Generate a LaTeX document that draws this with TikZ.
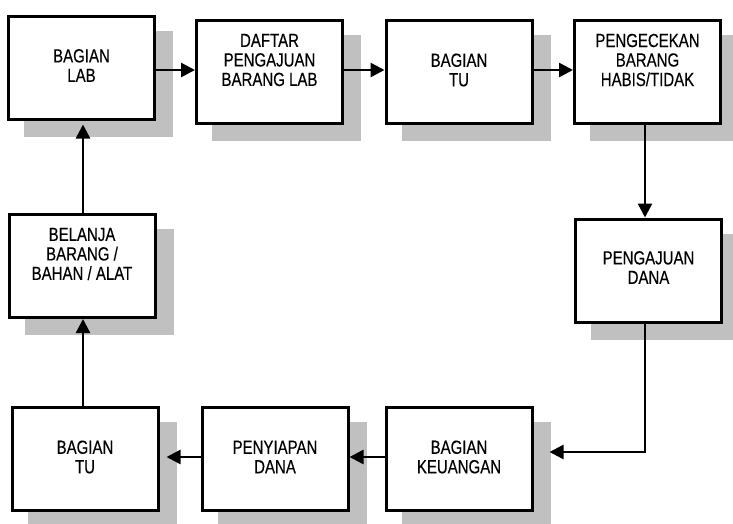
\documentclass[tikz,border=0pt]{standalone}
\usepackage{fontspec}
\setmainfont{Liberation Sans}[FakeStretch=0.79,FakeBold=0.3]
\usetikzlibrary{arrows.meta,shadows,calc}
\definecolor{shadowgray}{HTML}{C0C0C0}
\begin{document}
\begin{tikzpicture}[x=1pt,y=-1pt,
  box/.style={draw=black, line width=3pt, fill=white, minimum width=146pt, minimum height=103pt, inner sep=0pt,
    general shadow={fill=shadowgray, draw=shadowgray, shadow xshift=17pt, shadow yshift=-16pt}},
  txt/.style={align=center, font=\fontsize{19}{19.5}\selectfont, inner sep=0pt},
  arr/.style={line width=2.5pt, -{Triangle[length=14pt,width=14pt]}}
]
\useasboundingbox (0,0) rectangle (733,523);

% boxes
\node[box] (b1) at (81.5,67.5) {};
\node[box] (b2) at (269.5,72) {};
\node[box] (b3) at (459,72) {};
\node[box] (b4) at (647.5,72) {};
\node[box] (b5) at (648.5,270.5) {};
\node[box] (b6) at (459,459) {};
\node[box] (b7) at (275,459) {};
\node[box] (b8) at (85,459) {};
\node[box] (b9) at (82,266) {};

% texts
\node[txt] (t1) at ([yshift=2pt]b1.center) {BAGIAN\\LAB};
\node[txt] (t2) at ([yshift=12pt]b2.center) {DAFTAR\\PENGAJUAN\\BARANG LAB};
\node[txt] (t3) at ([yshift=2pt]b3.center) {BAGIAN\\TU};
\node[txt] (t4) at ([yshift=12pt]b4.center) {PENGECEKAN\\BARANG\\HABIS/TIDAK};
\node[txt] (t5) at ([yshift=3pt]b5.center) {PENGAJUAN\\DANA};
\node[txt] (t6) at ([yshift=2pt]b6.center) {BAGIAN\\KEUANGAN};
\node[txt] (t7) at ([yshift=2pt]b7.center) {PENYIAPAN\\DANA};
\node[txt] (t8) at ([yshift=2pt]b8.center) {BAGIAN\\TU};
\node[txt] (t9) at ([yshift=12pt]b9.center) {BELANJA\\BARANG /\\BAHAN / ALAT};

% connectors
\draw[arr] ($(b1.east)+(0,2.5)$) -- ($(b1.east -| b2.west)+(0,2.5)$);
\draw[arr] ($(b2.east)+(0,-2)$) -- ($(b2.east -| b3.west)+(0,-2)$);
\draw[arr] ($(b3.east)+(0,-2)$) -- ($(b3.east -| b4.west)+(0,-2)$);
\draw[arr] ($(b4.south)+(-2.5,0)$) -- ($(b4.south |- b5.north)+(-2.5,0)$);
\draw[arr] ($(b5.south)+(-3.5,0)$) |- ($(b6.east)+(16,-7)$);
\draw[arr] ($(b6.west)+(0,-2)$) -- ($(b6.west -| b7.east)+(0,-2)$);
\draw[arr] ($(b7.west)+(0,-2)$) -- ($(b7.west -| b8.east)+(7,-2)$);
\draw[arr] ($(b8.north)+(-2,0)$) -- ($(b8.north |- b9.south)+(-2,0)$);
\draw[arr] ($(b9.north)+(1,0)$) -- ($(b9.north |- b1.south)+(1,4)$);
\end{tikzpicture}
\end{document}
